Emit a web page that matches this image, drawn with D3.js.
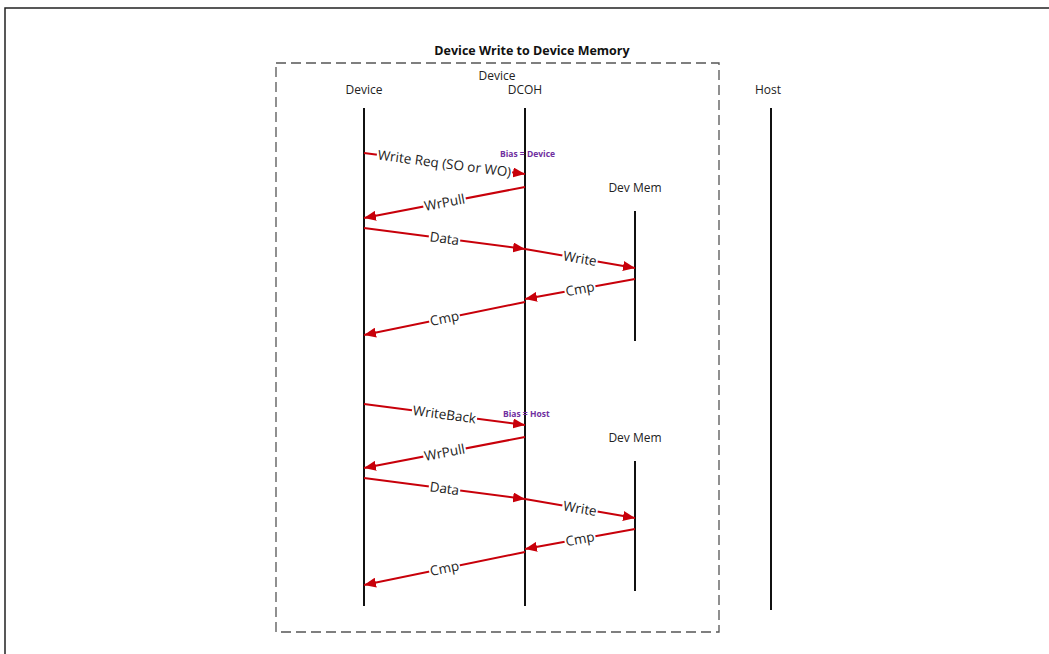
<!DOCTYPE html>
<html><head><meta charset="utf-8">
<script src="https://cdnjs.cloudflare.com/ajax/libs/d3/7.8.5/d3.min.js"></script>
<style>body{margin:0;background:#fff}svg{display:block}</style>
</head><body>
<script>
// ---- data ----
const participants = ["Device", "DCOH", "DevMem", "Host"];
const headerLabels = [
  {text: "Device", who: "Device", t: 90},
  {text: "Device", who: "DCOH", t: 76, dx: -28},
  {text: "DCOH", who: "DCOH", t: 90},
  {text: "Host", who: "Host", t: 90, dx: -3},
  {text: "Dev Mem", who: "DevMem", t: 188},
  {text: "Dev Mem", who: "DevMem", t: 438}
];
const lifelines = [
  {who: "Device", t0: 108, t1: 606},
  {who: "DCOH", t0: 108, t1: 606},
  {who: "Host", t0: 108, t1: 610},
  {who: "DevMem", t0: 211, t1: 341},
  {who: "DevMem", t0: 461, t1: 591}
];
const messages = [
  {from: "Device", to: "DCOH", t0: 153, t1: 174, label: "Write Req (SO or WO)"},
  {from: "DCOH", to: "Device", t0: 187, t1: 218, label: "WrPull"},
  {from: "Device", to: "DCOH", t0: 228, t1: 249, label: "Data"},
  {from: "DCOH", to: "DevMem", t0: 249, t1: 268, label: "Write"},
  {from: "DevMem", to: "DCOH", t0: 279, t1: 299, label: "Cmp"},
  {from: "DCOH", to: "Device", t0: 302, t1: 335, label: "Cmp"},
  {from: "Device", to: "DCOH", t0: 404, t1: 425, label: "WriteBack"},
  {from: "DCOH", to: "Device", t0: 437, t1: 468, label: "WrPull"},
  {from: "Device", to: "DCOH", t0: 478, t1: 499, label: "Data"},
  {from: "DCOH", to: "DevMem", t0: 499, t1: 518, label: "Write"},
  {from: "DevMem", to: "DCOH", t0: 529, t1: 549, label: "Cmp"},
  {from: "DCOH", to: "Device", t0: 552, t1: 585, label: "Cmp"}
];
const notes = [
  {text: "Bias = Device", who: "DCOH", t: 154, dx: -25},
  {text: "Bias = Host", who: "DCOH", t: 414, dx: -22}
];
const title = "Device Write to Device Memory";

// ---- drawing ----
const W = 1049, H = 654;
const x = d3.scaleOrdinal().domain(participants).range([364, 525, 635, 771]);
const y = d3.scaleLinear().domain([0, H]).range([0, H]);
const red = "#c8000a";
const font = "'Open Sans', sans-serif";

const svg = d3.select("body").append("svg").attr("width", W).attr("height", H);
svg.append("defs").append("marker")
  .attr("id", "ah").attr("viewBox", "0 0 12 10").attr("refX", 12).attr("refY", 5)
  .attr("markerWidth", 12).attr("markerHeight", 10).attr("markerUnits", "userSpaceOnUse")
  .attr("orient", "auto")
  .append("path").attr("d", "M0,0L12,5L0,10Z").attr("fill", red);

// outer frame
svg.append("path").attr("d", `M5,${H}V8H${W}`).attr("fill", "none")
  .attr("stroke", "#222").attr("stroke-width", 1.5);

// dashed box
svg.append("rect").attr("x", 276).attr("y", 63).attr("width", 443).attr("height", 569)
  .attr("fill", "none").attr("stroke", "#555").attr("stroke-width", 1.3)
  .attr("stroke-dasharray", "10,5");

// title
svg.append("text").attr("x", 532).attr("y", y(55)).attr("text-anchor", "middle")
  .attr("font-family", font).attr("font-weight", "bold").attr("font-size", 12.5)
  .attr("fill", "#111").text(title);

// headers
svg.selectAll("text.hdr").data(headerLabels).join("text").attr("class", "hdr")
  .attr("x", d => x(d.who) + (d.dx || 0)).attr("y", d => y(d.t) + 4)
  .attr("text-anchor", "middle").attr("font-family", font).attr("font-size", 12)
  .attr("fill", "#222").text(d => d.text);

// lifelines
svg.selectAll("line.life").data(lifelines).join("line").attr("class", "life")
  .attr("x1", d => x(d.who)).attr("x2", d => x(d.who))
  .attr("y1", d => y(d.t0)).attr("y2", d => y(d.t1))
  .attr("stroke", "#111").attr("stroke-width", 2);

// messages
const g = svg.selectAll("g.msg").data(messages).join("g").attr("class", "msg");
g.append("line")
  .attr("x1", d => x(d.from)).attr("y1", d => y(d.t0))
  .attr("x2", d => x(d.to)).attr("y2", d => y(d.t1))
  .attr("stroke", red).attr("stroke-width", 2).attr("marker-end", "url(#ah)");
const labelTransform = d => {
  const x0 = x(d.from), x1 = x(d.to), y0 = y(d.t0), y1 = y(d.t1);
  let a = Math.atan2(y1 - y0, x1 - x0) * 180 / Math.PI;
  if (a > 90) a -= 180; if (a < -90) a += 180;
  return `translate(${(x0 + x1) / 2},${(y0 + y1) / 2}) rotate(${a})`;
};
const lg = g.append("g").attr("transform", labelTransform);
const bg = lg.append("rect").attr("fill", "#fff");
const tx = lg.append("text")
  .attr("dy", "0.35em").attr("text-anchor", "middle")
  .attr("font-family", font).attr("font-size", 13.5).attr("fill", "#222")
  .text(d => d.label);
tx.each(function () {
  const w = this.getComputedTextLength();
  d3.select(this.parentNode).select("rect")
    .attr("x", -w / 2 - 1).attr("y", -5).attr("width", w + 2).attr("height", 10);
});

// notes
svg.selectAll("text.note").data(notes).join("text").attr("class", "note")
  .attr("x", d => x(d.who) + d.dx).attr("y", d => y(d.t) + 3)
  .attr("font-family", font).attr("font-size", 8.5).attr("font-weight", "bold")
  .attr("fill", "#7030a0").text(d => d.text);
</script>
</body></html>
